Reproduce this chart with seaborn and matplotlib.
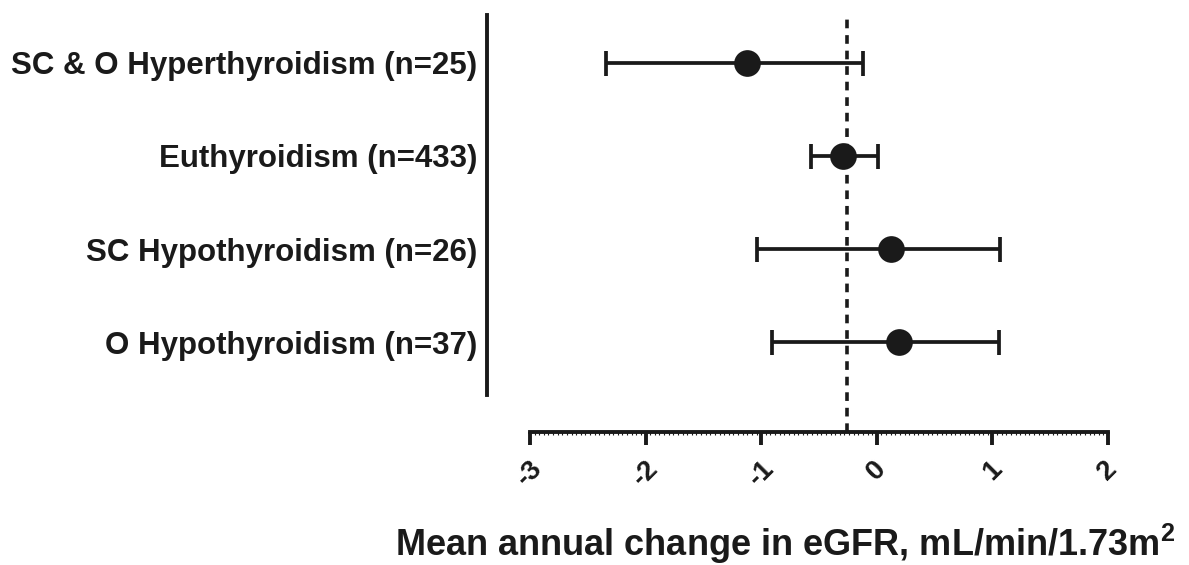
import numpy as np
import pandas as pd
import matplotlib
matplotlib.use("Agg")
import matplotlib.pyplot as plt
from matplotlib.ticker import FixedLocator
import seaborn as sns

# Data
groups = ["SC & O Hyperthyroidism (n=25)", "Euthyroidism (n=433)",
          "SC Hypothyroidism (n=26)", "O Hypothyroidism (n=37)"]
means = [-1.12, -0.29, 0.12, 0.19]
ci_low = [-2.34, -0.57, -1.04, -0.91]
ci_high = [-0.12, 0.01, 1.07, 1.06]
overall_mean = -0.26
x_ticks = [-3, -2, -1, 0, 1, 2]

sns.set_theme(style="white")
plt.rcParams['font.family'] = ['Liberation Sans', 'DejaVu Sans']
plt.rcParams['font.weight'] = 'bold'
plt.rcParams['mathtext.fontset'] = 'custom'
plt.rcParams['mathtext.bf'] = 'Liberation Sans:bold'

ink = "#1a1a1a"

df = pd.DataFrame({"group": groups, "mean": means, "lo": ci_low, "hi": ci_high})
df["pos"] = np.arange(len(groups))

fig = plt.figure(figsize=(11.89, 5.65), dpi=100)
ax = fig.add_axes([487 / 1189, 1 - 432 / 565, (1108 - 487) / 1189, (432 - 15) / 565])

ax.axvline(overall_mean, color=ink, lw=2.6, ls=(0, (2.4, 1.9)), zorder=1)

ax.errorbar(df["mean"], df["pos"],
            xerr=[df["mean"] - df["lo"], df["hi"] - df["mean"]],
            fmt="none", ecolor=ink, elinewidth=2.7, capsize=9, capthick=2.7, zorder=2)
sns.scatterplot(data=df, x="mean", y="pos", ax=ax, color=ink, s=370,
                edgecolor=ink, linewidth=0, zorder=3, legend=False)

ax.set_xlim(-3.372, 2.0)
ax.set_ylim(3.96, -0.51)

ax.set_yticks(df["pos"])
ax.set_yticklabels(groups, fontsize=22.5, fontweight="bold", color=ink)
ax.tick_params(axis="y", length=0, pad=7)

ax.set_xticks(x_ticks)
ax.set_xticklabels([str(t) for t in x_ticks], rotation=45, ha="center",
                   fontsize=20, fontweight="bold", color=ink)
ax.xaxis.set_minor_locator(FixedLocator(np.arange(-3, 2.001, 0.04)))
ax.tick_params(axis="x", which="major", direction="out", length=9, width=2.8,
               color=ink, pad=8, bottom=True)
ax.tick_params(axis="x", which="minor", direction="out", length=2.5, width=0.8,
               color=ink, bottom=True)

for side in ["top", "right"]:
    ax.spines[side].set_visible(False)
ax.spines["left"].set_linewidth(2.8)
ax.spines["left"].set_color(ink)
ax.spines["left"].set_bounds(-0.51, 3.56)
ax.spines["bottom"].set_linewidth(2.8)
ax.spines["bottom"].set_color(ink)
ax.spines["bottom"].set_bounds(-3, 2)

ax.set_ylabel("")
ax.set_xlabel("Mean annual change in eGFR, mL/min/1.73m$^\\mathbf{2}$",
              fontsize=26, fontweight="bold", color=ink)
ax.xaxis.set_label_coords(0.48, -0.215)

fig.savefig("out.png", dpi=100, facecolor="white")
